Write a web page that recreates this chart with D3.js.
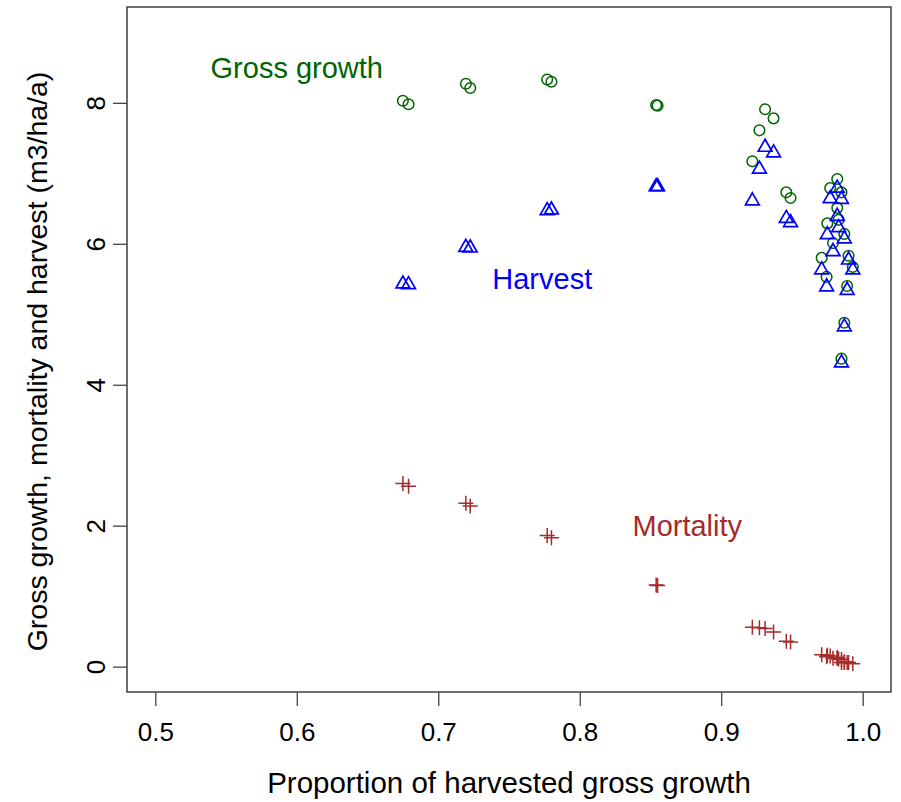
<!DOCTYPE html>
<html>
<head>
<meta charset="utf-8">
<script src="https://cdn.jsdelivr.net/npm/d3@7"></script>
<style>
  body { margin: 0; background: #fff; }
  text { font-family: "Liberation Sans", Arial, Helvetica, sans-serif; }
</style>
</head>
<body>
<div id="chart"></div>
<script>
// Values, one entry per site
var propHarvested = [0.675, 0.679, 0.7195, 0.7226, 0.777, 0.780, 0.854, 0.855,
  0.922, 0.927, 0.931, 0.937, 0.946, 0.949,
  0.982, 0.977, 0.985, 0.982, 0.983, 0.975, 0.987, 0.979,
  0.971, 0.990, 0.993, 0.9745, 0.989, 0.987, 0.985];
var grossGrowth = [8.03, 7.98, 8.27, 8.21, 8.33, 8.30, 7.97, 7.96,
  7.17, 7.61, 7.91, 7.78, 6.73, 6.65,
  6.92, 6.79, 6.73, 6.51, 6.34, 6.29, 6.14, 6.01,
  5.80, 5.83, 5.67, 5.53, 5.40, 4.88, 4.37];
var harvest = [5.43, 5.42, 5.95, 5.94, 6.47, 6.48, 6.81, 6.81,
  6.61, 7.06, 7.37, 7.29, 6.36, 6.30,
  6.79, 6.64, 6.63, 6.39, 6.23, 6.13, 6.07, 5.89,
  5.63, 5.77, 5.63, 5.39, 5.34, 4.82, 4.31];
var mortality = [2.60, 2.56, 2.32, 2.28, 1.86, 1.83, 1.16, 1.15,
  0.56, 0.55, 0.54, 0.49, 0.36, 0.35,
  0.13, 0.15, 0.10, 0.12, 0.11, 0.16, 0.07, 0.12,
  0.17, 0.06, 0.04, 0.14, 0.06, 0.06, 0.06];

var xTicks = [0.5, 0.6, 0.7, 0.8, 0.9, 1.0];
var yTicks = [0, 2, 4, 6, 8];

// SVG size and plot box
var svgWidth = 901;
var svgHeight = 802;
var box = { left: 127, right: 891, top: 7, bottom: 692 };

var svg = d3.select("#chart")
  .append("svg")
  .attr("width", svgWidth)
  .attr("height", svgHeight);

// R style: limits extended by 4% on each side
var xScale = d3.scaleLinear()
  .domain([0.48, 1.02])
  .range([box.left, box.right]);

var yScale = d3.scaleLinear()
  .domain([-0.36, 9.36])
  .range([box.bottom, box.top]);

// plot frame
svg.append("rect")
  .attr("x", box.left)
  .attr("y", box.top)
  .attr("width", box.right - box.left)
  .attr("height", box.bottom - box.top)
  .attr("fill", "none")
  .attr("stroke", "#222")
  .attr("stroke-width", 1.3);

// axes
var bottomAxis = d3.axisBottom(xScale)
  .tickValues(xTicks)
  .tickFormat(d3.format(".1f"))
  .tickSize(14)
  .tickPadding(17);

var xAxis = svg.append("g")
  .attr("transform", `translate(0, ${box.bottom})`)
  .call(bottomAxis);

var leftAxis = d3.axisLeft(yScale)
  .tickValues(yTicks)
  .tickFormat(d3.format("d"))
  .tickSize(14);

var yAxis = svg.append("g")
  .attr("transform", `translate(${box.left}, 0)`)
  .call(leftAxis);

[xAxis, yAxis].forEach(function(ax) {
  ax.select(".domain").remove();
  ax.selectAll("line").attr("stroke", "#444").attr("stroke-width", 1.3);
  ax.selectAll("text")
    .attr("font-size", "26px")
    .attr("fill", "#000")
    .attr("font-family", "Liberation Sans, Arial, sans-serif");
});

// y tick labels run parallel to the axis
yAxis.selectAll(".tick text")
  .attr("x", null)
  .attr("dy", null)
  .attr("text-anchor", "middle")
  .attr("transform", "translate(-22, 0) rotate(-90)");

// axis titles
svg.append("text")
  .attr("x", (xScale(0.5) + xScale(1.0)) / 2)
  .attr("y", 793)
  .attr("text-anchor", "middle")
  .attr("font-size", "29.5px")
  .text("Proportion of harvested gross growth");

svg.append("text")
  .attr("transform", `translate(47, ${(box.top + box.bottom) / 2 + 12}) rotate(-90)`)
  .attr("text-anchor", "middle")
  .attr("font-size", "28.5px")
  .text("Gross growth, mortality and harvest (m3/ha/a)");

var sites = propHarvested.map(function(p, i) {
  return { p: p, gg: grossGrowth[i], h: harvest[i], m: mortality[i] };
});

// gross growth: open circles
svg.append("g").selectAll("circle")
  .data(sites)
  .enter()
  .append("circle")
  .attr("cx", d => xScale(d.p))
  .attr("cy", d => yScale(d.gg))
  .attr("r", 5.3)
  .attr("fill", "none")
  .attr("stroke", "#006400")
  .attr("stroke-width", 1.5);

// harvest: open triangles
var tri = "M0,-8L6.9,4L-6.9,4Z";
svg.append("g").selectAll("path")
  .data(sites)
  .enter()
  .append("path")
  .attr("d", tri)
  .attr("transform", d => `translate(${xScale(d.p)}, ${yScale(d.h)})`)
  .attr("fill", "none")
  .attr("stroke", "blue")
  .attr("stroke-width", 1.7);

// mortality: plus signs
var plus = "M-7.5,0H7.5M0,-7.5V7.5";
svg.append("g").selectAll("path")
  .data(sites)
  .enter()
  .append("path")
  .attr("d", plus)
  .attr("transform", d => `translate(${xScale(d.p)}, ${yScale(d.m)})`)
  .attr("fill", "none")
  .attr("stroke", "#A52A2A")
  .attr("stroke-width", 1.5);

// series labels
var labels = [
  { text: "Gross growth", x: 0.6, y: 8.5, color: "#006400" },
  { text: "Harvest", x: 0.7735, y: 5.5, color: "blue" },
  { text: "Mortality", x: 0.876, y: 2.0, color: "#A52A2A" }
];

svg.append("g").selectAll("text")
  .data(labels)
  .enter()
  .append("text")
  .attr("x", d => xScale(d.x))
  .attr("y", d => yScale(d.y))
  .attr("dy", "0.35em")
  .attr("text-anchor", "middle")
  .attr("font-size", "29px")
  .attr("fill", d => d.color)
  .text(d => d.text);
</script>
</body>
</html>
